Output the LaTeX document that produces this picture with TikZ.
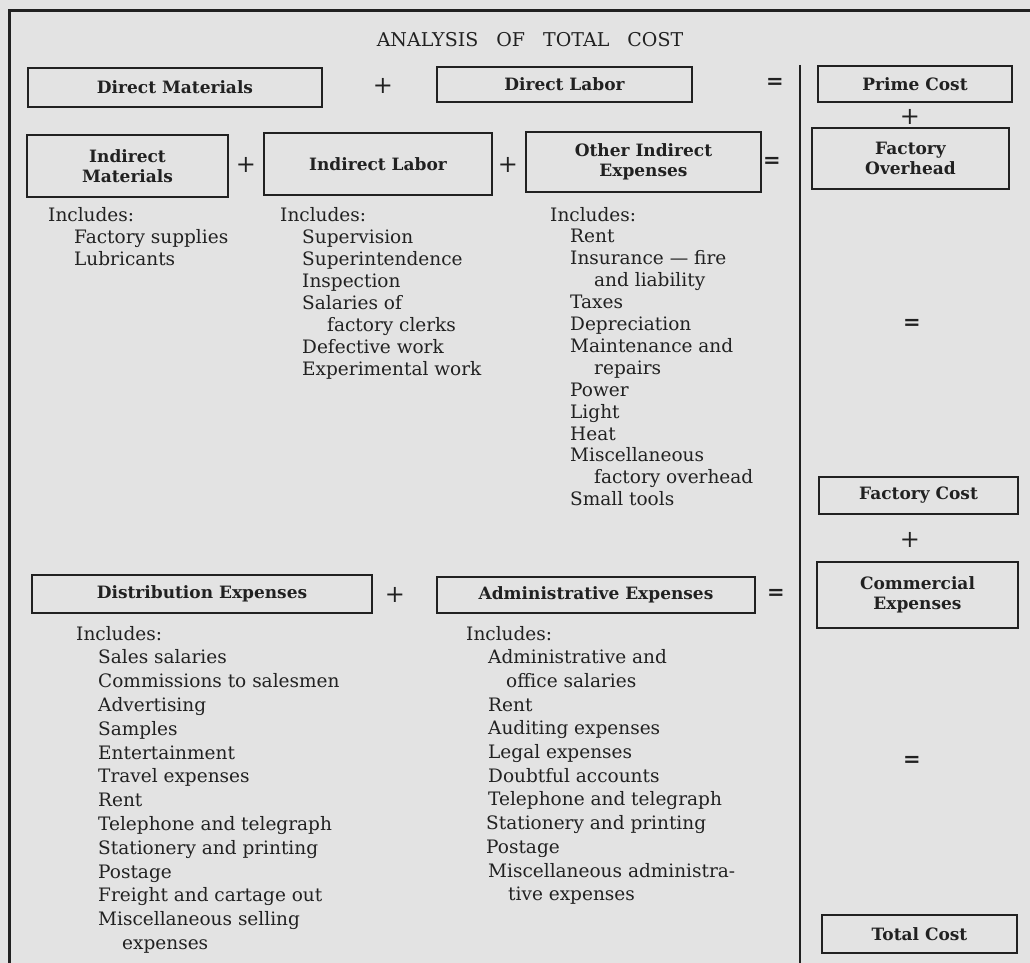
\documentclass[tikz,border=0pt]{standalone}
\usepackage{fontspec}
\setmainfont{DejaVu Serif}
\definecolor{paper}{gray}{0.89}
\definecolor{ink}{gray}{0.13}
\begin{document}
\begin{tikzpicture}[x=1pt,y=-1pt,
  every node/.style={text=ink},
  costbox/.style={draw=ink,line width=2.6pt,inner sep=0pt,font=\bfseries\fontsize{17}{20}\selectfont,align=center},
  op/.style={font=\fontsize{24}{24}\selectfont,inner sep=0pt},
  eqop/.style={font=\bfseries\fontsize{21}{21}\selectfont,inner sep=0pt},
  item/.style={font=\fontsize{18.5}{22}\selectfont,inner sep=0pt,anchor=base west},
  frame/.style={draw=ink,line width=3pt}]
\fill[paper] (0,0) rectangle (1030,963);
\useasboundingbox (0,0) rectangle (1030,963);
% frame
\draw[frame] (8,11) -- (1030,11);
\draw[frame] (9,11) -- (9,963);
\draw[draw=ink,line width=2.6pt] (800,65) -- (800,963);
% title
\node[font=\fontsize{19}{22}\selectfont,inner sep=0pt] (title) at (530,40) {ANALYSIS\hspace{0.95em}OF\hspace{0.95em}TOTAL\hspace{0.95em}COST};
% boxes
\node[costbox,minimum width=294pt,minimum height=39pt] (dm) at (175,87.5) {Direct Materials};
\node[costbox,minimum width=255pt,minimum height=35pt] (dl) at (564.5,84.5) {Direct Labor};
\node[costbox,minimum width=194pt,minimum height=36pt] (pc) at (915,84) {Prime Cost};
\node[costbox,minimum width=197pt,minimum height=61pt] (fo) at (910.5,158.5) {Factory\\Overhead};
\node[costbox,minimum width=201pt,minimum height=62pt] (im) at (127.5,166) {Indirect\\Materials};
\node[costbox,minimum width=228pt,minimum height=62pt] (il) at (378,164) {Indirect Labor};
\node[costbox,minimum width=235pt,minimum height=60pt] (oie) at (643.5,162) {Other Indirect\\Expenses};
\node[costbox,minimum width=199pt,minimum height=37pt] (fc) at (918.5,495.5) {Factory Cost};
\node[costbox,minimum width=201pt,minimum height=66pt] (ce) at (917.5,595) {Commercial\\Expenses};
\node[costbox,minimum width=340pt,minimum height=38pt] (de) at (202,594) {Distribution Expenses};
\node[costbox,minimum width=318pt,minimum height=36pt] (ae) at (596,595) {Administrative Expenses};
\node[costbox,minimum width=195pt,minimum height=38pt] (tc) at (919.5,934) {Total Cost};
% operators
\node[op] (p1) at (383,86) {+};
\node[eqop] (e1) at (775,83) {=};
\node[op] (p2) at (910,117) {+};
\node[op] (p3) at (246,165) {+};
\node[op] (p4) at (508,165) {+};
\node[eqop] (e2) at (772,162) {=};
\node[eqop] (e3) at (912,324) {=};
\node[op] (p5) at (910,540) {+};
\node[op] (p6) at (395,595) {+};
\node[eqop] (e4) at (776,594) {=};
\node[eqop] (e5) at (912,761) {=};
% lists
\foreach [count=\i] \dx/\t in {0/Includes:,26/Factory supplies,26/Lubricants}
  \node[item] (iml\i) at ({48+\dx},{221+22*(\i-1)}) {\t};
\foreach [count=\i] \dx/\t in {0/Includes:,22/Supervision,22/Superintendence,22/Inspection,22/Salaries of,47/factory clerks,22/Defective work,22/Experimental work}
  \node[item] (ill\i) at ({280+\dx},{221+22*(\i-1)}) {\t};
\foreach [count=\i] \dx/\t in {0/Includes:,20/Rent,20/Insurance — fire,44/and liability,20/Taxes,20/Depreciation,20/Maintenance and,44/repairs,20/Power,20/Light,20/Heat,20/Miscellaneous,44/factory overhead,20/Small tools}
  \node[item] (oil\i) at ({550+\dx},{221+21.9*(\i-1)}) {\t};
\foreach [count=\i] \dx/\t in {0/Includes:,22/Sales salaries,22/Commissions to salesmen,22/Advertising,22/Samples,22/Entertainment,22/Travel expenses,22/Rent,22/Telephone and telegraph,22/Stationery and printing,22/Postage,22/Freight and cartage out,22/Miscellaneous selling,46/expenses}
  \node[item] (del\i) at ({76+\dx},{640+23.8*(\i-1)}) {\t};
\foreach [count=\i] \dx/\t in {0/Includes:,22/Administrative and,40/office salaries,22/Rent,22/Auditing expenses,22/Legal expenses,22/Doubtful accounts,22/Telephone and telegraph,20/Stationery and printing,20/Postage,22/Miscellaneous administra-,42/tive expenses}
  \node[item] (ael\i) at ({466+\dx},{640+23.7*(\i-1)}) {\t};
\end{tikzpicture}
\end{document}
